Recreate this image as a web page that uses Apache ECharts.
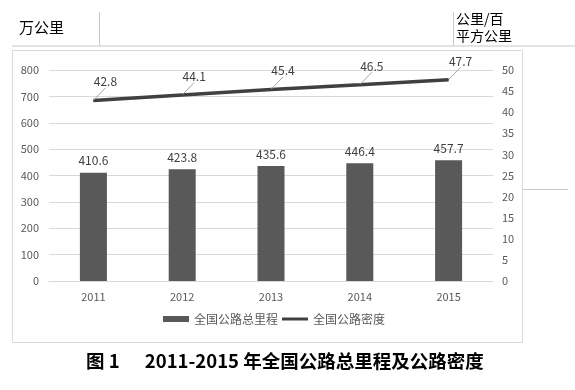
<!DOCTYPE html>
<html><head><meta charset="utf-8">
<script src="https://cdn.jsdelivr.net/npm/echarts@6/dist/echarts.min.js"></script>
<style>html,body{margin:0;padding:0;background:#fff}#c{width:575px;height:390px}</style>
</head><body><div id="c"></div>
<script>
const years = ['2011','2012','2013','2014','2015'];
const mileage = [410.6, 423.8, 435.6, 446.4, 457.7];
const density = [42.8, 44.1, 45.4, 46.5, 47.7];
const leftTicks = {min:0, max:800, interval:100};
const rightTicks = {min:0, max:50, interval:5};
const FONT = '"Noto Sans CJK SC", "Liberation Sans", sans-serif';
const chart = echarts.init(document.getElementById('c'));
chart.setOption({
  animation:false,
  textStyle:{fontFamily:FONT},
  grid:{left:49, right:82, top:70, bottom:109},
  legend:{
    bottom:60, left:158, itemGap:4, itemWidth:26, itemHeight:6,
    textStyle:{color:'#595959', fontSize:12, fontFamily:FONT},
    data:[{name:'全国公路总里程', icon:'rect'},
          {name:'全国公路密度', icon:'path://M0,0 L26,0 L26,3 L0,3 Z'}]
  },
  xAxis:{type:'category', data:years,
    axisLine:{lineStyle:{color:'#d9d9d9'}}, axisTick:{show:false},
    axisLabel:{color:'#595959', fontSize:11, margin:10}},
  yAxis:[
    {type:'value', min:leftTicks.min, max:leftTicks.max, interval:leftTicks.interval,
      axisLabel:{color:'#595959', fontSize:11, margin:10},
      axisLine:{show:false}, axisTick:{show:false},
      splitLine:{lineStyle:{color:'#d9d9d9'}}},
    {type:'value', min:rightTicks.min, max:rightTicks.max, interval:rightTicks.interval,
      axisLabel:{color:'#595959', fontSize:11, margin:9},
      axisLine:{show:false}, axisTick:{show:false}, splitLine:{show:false}}
  ],
  series:[
    {name:'全国公路总里程', type:'bar', data:mileage, barWidth:27,
      itemStyle:{color:'#595959'},
      label:{show:true, position:'top', distance:6, color:'#404040', fontSize:12}},
    {name:'全国公路密度', type:'line', yAxisIndex:1, data:density,
      symbol:'circle', symbolSize:1, showSymbol:true,
      lineStyle:{color:'#404040', width:3.5}, itemStyle:{color:'#404040'},
      label:{show:true, position:'top', distance:2, color:'#404040', fontSize:12},
      labelLayout:{dx:12, dy:-10},
      labelLine:{show:true, lineStyle:{color:'#a6a6a6', width:1}}}
  ],
  graphic:[
    {type:'rect', shape:{x:12.5, y:50.5, width:510, height:292}, style:{fill:null, stroke:'#d9d9d9', lineWidth:1}, z:-1},
    {type:'line', shape:{x1:12, y1:46, x2:575, y2:46}, style:{stroke:'#c8c8c8', lineWidth:1}},
    {type:'line', shape:{x1:99.5, y1:12, x2:99.5, y2:46}, style:{stroke:'#c8c8c8', lineWidth:1}},
    {type:'line', shape:{x1:453.5, y1:12, x2:453.5, y2:46}, style:{stroke:'#c8c8c8', lineWidth:1}},
    {type:'line', shape:{x1:523, y1:189.5, x2:568, y2:189.5}, style:{stroke:'#c8c8c8', lineWidth:1}},
    {type:'text', left:19, top:20, style:{text:'万公里', fill:'#000', font:'15px ' + FONT}},
    {type:'text', left:456, top:10, style:{text:'公里/百\n平方公里', fill:'#000', font:'14px ' + FONT, lineHeight:17}},
    {type:'text', left:86, top:352, style:{text:'图 1      2011-2015 年全国公路总里程及公路密度', fill:'#000', font:'bold 18.5px ' + FONT}}
  ]
});
</script></body></html>
